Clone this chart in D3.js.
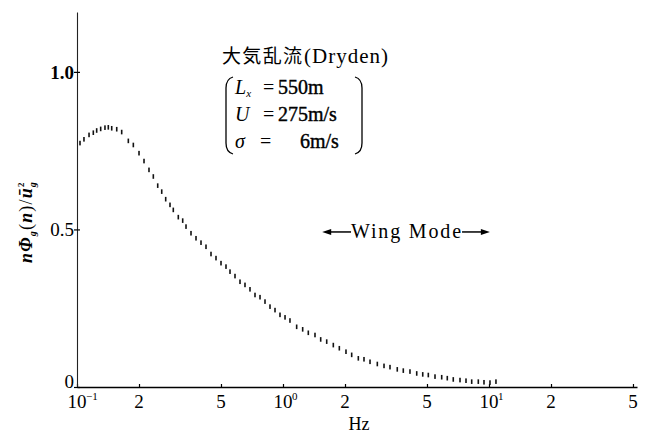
<!DOCTYPE html>
<html><head><meta charset="utf-8">
<script src="https://cdn.jsdelivr.net/npm/d3@7"></script>
<style>body{margin:0;background:#fff} svg{display:block}</style>
</head><body>
<svg id="c" width="653" height="436"></svg>
<script>
const freqHz = [0.1034,0.1081,0.1144,0.1200,0.1246,0.1303,0.1367,0.1419,0.1474,0.1559,0.1648,
  0.1775,0.1877,0.2000,0.2115,0.2236,0.2347,0.2465,0.2578,0.2695,0.2828,
  0.2934,0.3103,0.3259,0.3382,0.3576,0.3782,0.3999,0.4229,0.4472,0.4729,
  0.5001,0.5288,0.5530,0.5848,0.6184,0.6539,0.6915,0.7313,0.7734,0.8178,
  0.8648,0.9146,0.9670,1.023,1.081,1.165,1.246,1.327,1.430,1.524,
  1.630,1.755,1.877,2.022,2.155,2.321,2.473,2.645,2.870,3.093,
  3.307,3.587,3.837,4.134,4.458,4.768,5.075,5.469,5.894,6.274,
  6.708,7.232,7.734,8.242,8.874,9.457,10.11,10.81];
const psdValues = [0.774,0.786,0.800,0.807,0.814,0.819,0.823,0.824,0.821,0.818,0.809,
  0.781,0.768,0.742,0.717,0.689,0.668,0.639,0.620,0.596,0.578,
  0.562,0.539,0.528,0.509,0.488,0.472,0.458,0.445,0.422,0.409,
  0.393,0.382,0.366,0.352,0.334,0.324,0.310,0.292,0.285,0.271,
  0.255,0.244,0.229,0.221,0.211,0.191,0.183,0.172,0.165,0.151,
  0.144,0.133,0.123,0.112,0.102,0.091,0.088,0.080,0.073,0.067,
  0.063,0.056,0.052,0.049,0.043,0.040,0.038,0.033,0.031,0.028,
  0.024,0.022,0.020,0.017,0.017,0.015,0.014,0.017];
const xTickValues = [0.1,0.2,0.5,1,2,5,10,20,50];
const xTickBase = ["10","2","5","10","2","5","10","2","5"];
const xTickExp = ["-1","","","0","","","1","",""];
const yTickValues = [0,0.5,1.0];
const yTickLabels = ["0","0.5","1.0"];
const wingModeRange = [1.55,10.1];
const wingModeLevel = 0.492;
const titleCJK = "大気乱流";
const titleLatin = "(Dryden)";

const serif = "Liberation Serif, DejaVu Serif, serif";
const svg = d3.select("#c");
const x = d3.scaleLog().domain([0.1,52.3]).range([77,637]);
const y = d3.scaleLinear().domain([0,1.19]).range([387,12]);

// x axis
const gx = svg.append("g").attr("transform",`translate(0,${y(0)})`)
  .call(d3.axisBottom(x).tickValues(xTickValues).tickSizeInner(-3).tickSizeOuter(0).tickFormat(""));
gx.select(".domain").attr("stroke","#000").attr("stroke-width",1.6);
gx.selectAll(".tick line").attr("stroke","#000").attr("stroke-width",1.2);
xTickValues.forEach((v,i)=>{
  svg.append("text").attr("x",x(v)).attr("y",408)
    .attr("text-anchor","middle").attr("font-family",serif).attr("font-size",19).attr("fill","#000")
    .text(xTickBase[i]);
  if(xTickExp[i]){
    svg.append("text").attr("x",x(v)+9).attr("y",400).attr("font-family",serif)
      .attr("font-size",11).attr("fill","#000").text(xTickExp[i]==="-1"?"−1":xTickExp[i]);
  }
});
svg.append("text").attr("x",359).attr("y",430).attr("text-anchor","middle")
  .attr("font-family",serif).attr("font-size",18).attr("fill","#000").text("Hz");

// y axis
const gy = svg.append("g").attr("transform",`translate(${x(0.1)},0)`)
  .call(d3.axisLeft(y).tickValues(yTickValues).tickSizeInner(3).tickSizeOuter(0).tickFormat(""));
gy.select(".domain").attr("stroke","#222").attr("stroke-width",1.1);
gy.selectAll(".tick line").attr("x1",3).attr("stroke","#000").attr("stroke-width",1.2);
yTickValues.forEach((v,i)=>{
  svg.append("text").attr("x",74).attr("y",y(v)+(v===0?-6:0)).attr("dy","0.35em")
    .attr("text-anchor","end").attr("font-family",serif).attr("font-size",19)
    .attr("font-weight",v===1?"bold":"normal").attr("fill","#000").text(yTickLabels[i]);
});

// y label
const yl = svg.append("text").attr("transform","translate(32,222) rotate(-90)")
  .attr("text-anchor","middle").attr("font-family",serif).attr("font-size",18)
  .attr("font-weight","bold").attr("fill","#000").attr("letter-spacing",1.2);
yl.append("tspan").attr("font-style","italic").text("n");
yl.append("tspan").attr("font-style","italic").text("Φ");
yl.append("tspan").attr("font-style","italic").attr("font-size",10).attr("dy",4).text("g");
yl.append("tspan").attr("font-weight","normal").attr("dy",-4).text("(");
yl.append("tspan").attr("font-style","italic").text("n");
yl.append("tspan").attr("font-weight","normal").text(")/");
yl.append("tspan").attr("font-style","italic").text("ū");
yl.append("tspan").attr("font-size",9).attr("dy",-8).text("2");
yl.append("tspan").attr("font-style","italic").attr("font-size",10).attr("dx",-6).attr("dy",12).text("g");

// curve (short vertical dashes)
svg.append("g").selectAll("rect").data(freqHz.map((f,i)=>[f,psdValues[i]])).join("rect")
  .attr("x",d=>x(d[0])-0.8).attr("y",d=>y(d[1])-2.3).attr("width",1.6).attr("height",4.6)
  .attr("fill","#111");

// annotation
svg.append("text").attr("x",222).attr("y",63).attr("font-family","Noto Sans CJK JP, sans-serif")
  .attr("font-size",19).attr("fill","#000").attr("textLength",80).text(titleCJK);
svg.append("text").attr("x",304).attr("y",63).attr("font-family",serif)
  .attr("font-size",21).attr("fill","#000").attr("letter-spacing",1).text(titleLatin);
const lines = [
  {sym:"L", sub:"x", eq:263, val:"550m", vx:278, yb:94},
  {sym:"U", sub:"", eq:263, val:"275m/s", vx:278, yb:121},
  {sym:"σ", sub:"", eq:260, val:"6m/s", vx:300, yb:148}
];
lines.forEach(l=>{
  const t = svg.append("text").attr("y",l.yb).attr("font-family",serif).attr("font-size",20).attr("fill","#000");
  t.append("tspan").attr("x",235).attr("font-style","italic").text(l.sym);
  if(l.sub) t.append("tspan").attr("font-style","italic").attr("font-size",11).attr("dy",3).text(l.sub);
  t.append("tspan").attr("x",l.eq).attr("y",l.yb).text("=");
  t.append("tspan").attr("x",l.vx).attr("stroke","#000").attr("stroke-width",0.4).text(l.val);
});
svg.append("path").attr("d","M233,77 Q226,79 226,88 L226,143 Q226,152 233,154")
  .attr("fill","none").attr("stroke","#000").attr("stroke-width",1.3);
svg.append("path").attr("d","M355,77 Q362,79 362,88 L362,143 Q362,152 355,154")
  .attr("fill","none").attr("stroke","#000").attr("stroke-width",1.3);

// wing mode
const wx0 = x(wingModeRange[0]), wx1 = x(wingModeRange[1]), wy = y(wingModeLevel);
const wm = (wx0+wx1)/2;
svg.append("text").attr("x",wm-55).attr("y",wy+6).attr("font-family",serif).attr("font-size",20)
  .attr("fill","#000").attr("textLength",110).attr("lengthAdjust","spacing").text("Wing Mode");
svg.append("line").attr("x1",wx0+4).attr("x2",wm-55).attr("y1",wy).attr("y2",wy).attr("stroke","#000").attr("stroke-width",1.5);
svg.append("line").attr("x1",wm+56).attr("x2",wx1-4).attr("y1",wy).attr("y2",wy).attr("stroke","#000").attr("stroke-width",1.5);
svg.append("path").attr("d",`M${wx0},${wy} L${wx0+9},${wy-3} L${wx0+9},${wy+3} Z`).attr("fill","#000");
svg.append("path").attr("d",`M${wx1},${wy} L${wx1-9},${wy-3} L${wx1-9},${wy+3} Z`).attr("fill","#000");
</script>
</body></html>
